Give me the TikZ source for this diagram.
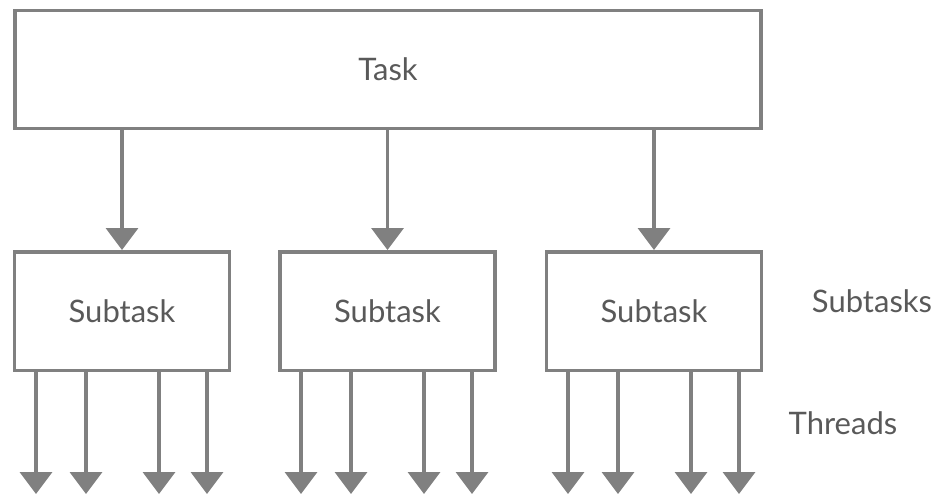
\documentclass[tikz,border=0pt]{standalone}
\usepackage{fontspec}
\setmainfont{Lato}
\usetikzlibrary{arrows.meta,calc}
\definecolor{linegray}{HTML}{808080}
\definecolor{textgray}{HTML}{595959}
\begin{document}
\begin{tikzpicture}[x=1pt,y=-1pt,
  box/.style={draw=linegray,line width=3.5pt,rectangle,inner sep=0pt,
    text=textgray,font=\fontsize{31}{36}\selectfont},
  lbl/.style={text=textgray,font=\fontsize{31}{36}\selectfont,inner sep=0pt},
  arr/.style={draw=linegray,line width=3.5pt,
    -{Triangle[width=32pt,length=22pt]}}]
\useasboundingbox (0,0) rectangle (940,495);
\node[box,minimum width=746pt,minimum height=117.5pt]
  (task) at (388,69.5) {Task};
\node[box,minimum width=215pt,minimum height=118.5pt]
  (sub1) at (122,311) {Subtask};
\node[box,minimum width=215pt,minimum height=118.5pt]
  (sub2) at (387.5,311) {Subtask};
\node[box,minimum width=215pt,minimum height=118.5pt]
  (sub3) at (654,311) {Subtask};
\node[lbl] (lsub) at (872,301.5) {Subtasks};
\node[lbl] (lthr) at (843,423) {Threads};
\foreach \s in {sub1,sub2,sub3}{
  \draw[arr] (task.south -| \s.north) -- (\s.north);
}
\foreach \s/\l in {sub1/13,sub2/278,sub3/545}{
  \foreach \d [count=\i] in {23,73,146,194}{
    \coordinate (\s t\i) at (\l+\d,494);
    \draw[arr] (\s.south -| \s t\i) -- (\s t\i);
  }
}
\end{tikzpicture}
\end{document}
